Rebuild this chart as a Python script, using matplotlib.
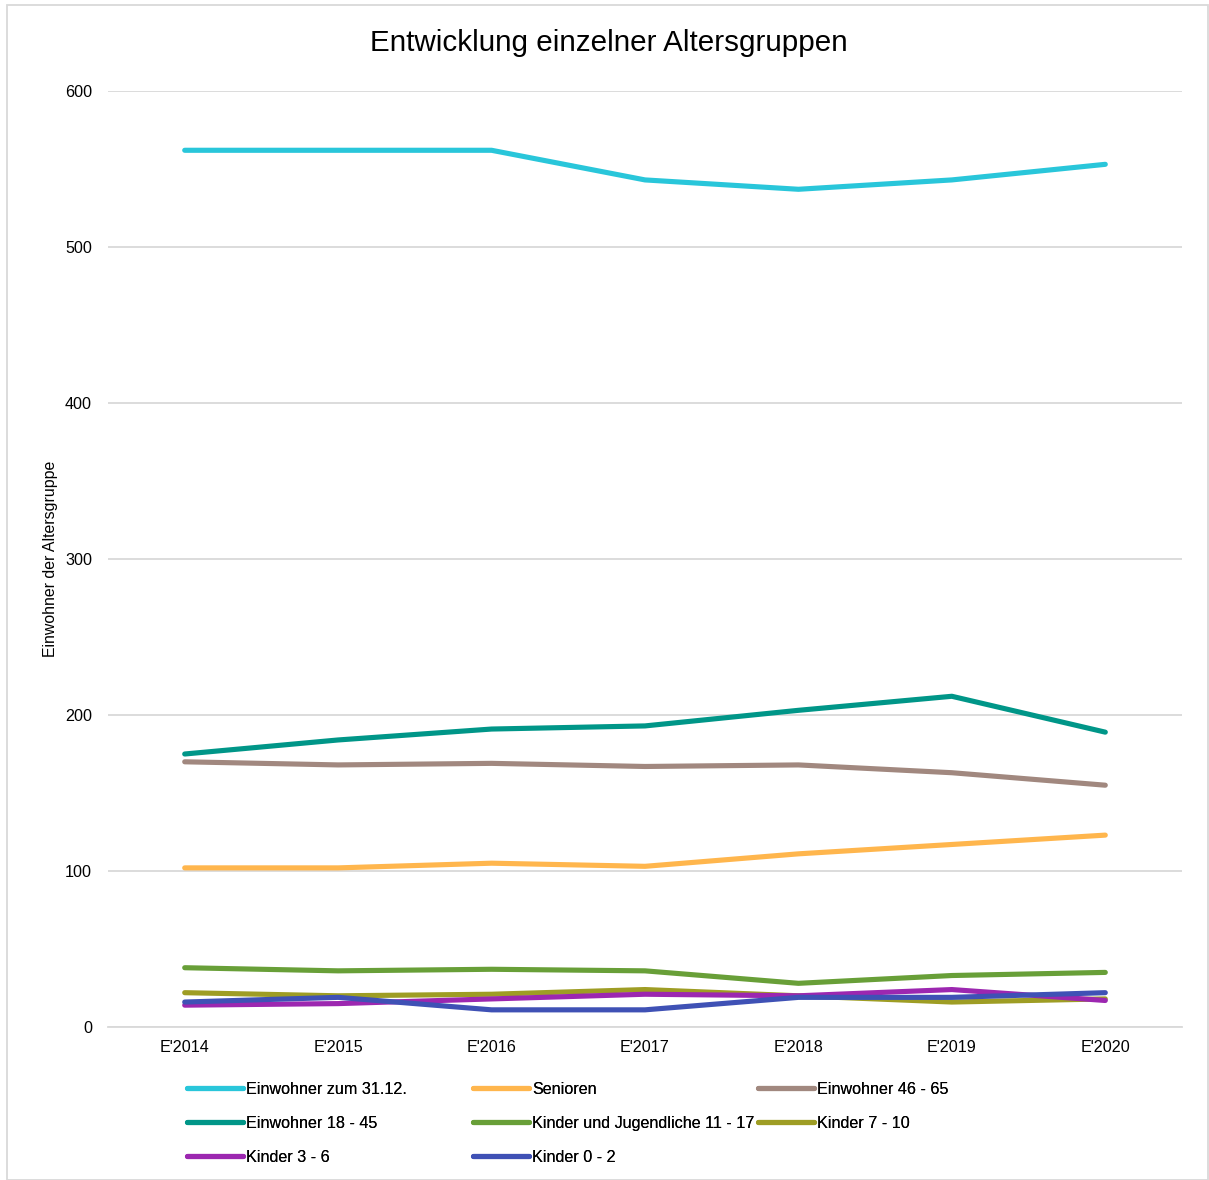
import matplotlib
matplotlib.use("Agg")
import matplotlib.pyplot as plt
from matplotlib.patches import Rectangle

plt.rcParams['font.family'] = ['Liberation Sans', 'DejaVu Sans']

years = ["E'2014", "E'2015", "E'2016", "E'2017", "E'2018", "E'2019", "E'2020"]

einwohner_gesamt = [562, 562, 562, 543, 537, 543, 553]
senioren = [102, 102, 105, 103, 111, 117, 123]
einwohner_46_65 = [170, 168, 169, 167, 168, 163, 155]
einwohner_18_45 = [175, 184, 191, 193, 203, 212, 189]
kinder_11_17 = [38, 36, 37, 36, 28, 33, 35]
kinder_7_10 = [22, 20, 21, 24, 20, 16, 18]
kinder_3_6 = [14, 15, 18, 21, 20, 24, 17]
kinder_0_2 = [16, 19, 11, 11, 19, 19, 22]

series = [
    ("Einwohner zum 31.12.", einwohner_gesamt, "#29C6DA"),
    ("Senioren", senioren, "#FFB64D"),
    ("Einwohner 46 - 65", einwohner_46_65, "#A1887F"),
    ("Einwohner 18 - 45", einwohner_18_45, "#009688"),
    ("Kinder und Jugendliche 11 - 17", kinder_11_17, "#689F38"),
    ("Kinder 7 - 10", kinder_7_10, "#9E9D24"),
    ("Kinder 3 - 6", kinder_3_6, "#9C27B0"),
    ("Kinder 0 - 2", kinder_0_2, "#3F51B5"),
]

fig = plt.figure(figsize=(12.09, 11.80), dpi=100)
ax = fig.add_axes([108 / 1209, 1 - 1027 / 1180, (1182 - 108) / 1209, (1027 - 91) / 1180])

x = list(range(len(years)))
handles = []
for label, vals, color in series:
    (ln,) = ax.plot(x, vals, color=color, lw=3.7, label=label,
                    solid_capstyle='round', solid_joinstyle='round')
    handles.append(ln)

ax.set_xlim(-0.5, len(years) - 0.5)
ax.set_ylim(0, 600)
ax.set_yticks([0, 100, 200, 300, 400, 500, 600])
ax.set_xticks(x)
ax.set_xticklabels(years)
ax.tick_params(axis='both', length=0, labelsize=11.6, colors='#000000')
ax.tick_params(axis='y', pad=11.5)
ax.tick_params(axis='x', pad=9)
ax.grid(axis='y', color='#d9d9d9', lw=1.3)
ax.set_axisbelow(True)
for s in ['top', 'right', 'left']:
    ax.spines[s].set_visible(False)
ax.spines['bottom'].set_color('#d9d9d9')
ax.spines['bottom'].set_linewidth(1.3)

ax.set_ylabel("Einwohner der Altersgruppe", fontsize=11.4)
ax.yaxis.set_label_coords(-50 / 1074, 0.5)

fig.text(609 / 1209, 1 - 43 / 1180, "Entwicklung einzelner Altersgruppen",
         ha='center', va='center', fontsize=21.3)

# legend laid out in three fixed columns
col_x = [187, 473, 758]
columns = [[0, 3, 6], [1, 4, 7], [2, 5]]
for cx, idx in zip(col_x, columns):
    leg = fig.legend([handles[i] for i in idx], [series[i][0] for i in idx],
                     loc='upper left', bbox_to_anchor=(cx / 1209, 1 - 1082 / 1180),
                     frameon=False, fontsize=11.6, handlelength=3.5,
                     handletextpad=0.15, labelspacing=1.18, borderaxespad=0,
                     borderpad=0)
    fig.add_artist(leg)

fig.patches.append(Rectangle((7 / 1209, 0), 1 - 7 / 1209 - 0.0005, 1 - 5 / 1180,
                             transform=fig.transFigure, fill=False,
                             edgecolor='#d9d9d9', lw=1.3))

fig.savefig("out.png", dpi=100, facecolor='white')
